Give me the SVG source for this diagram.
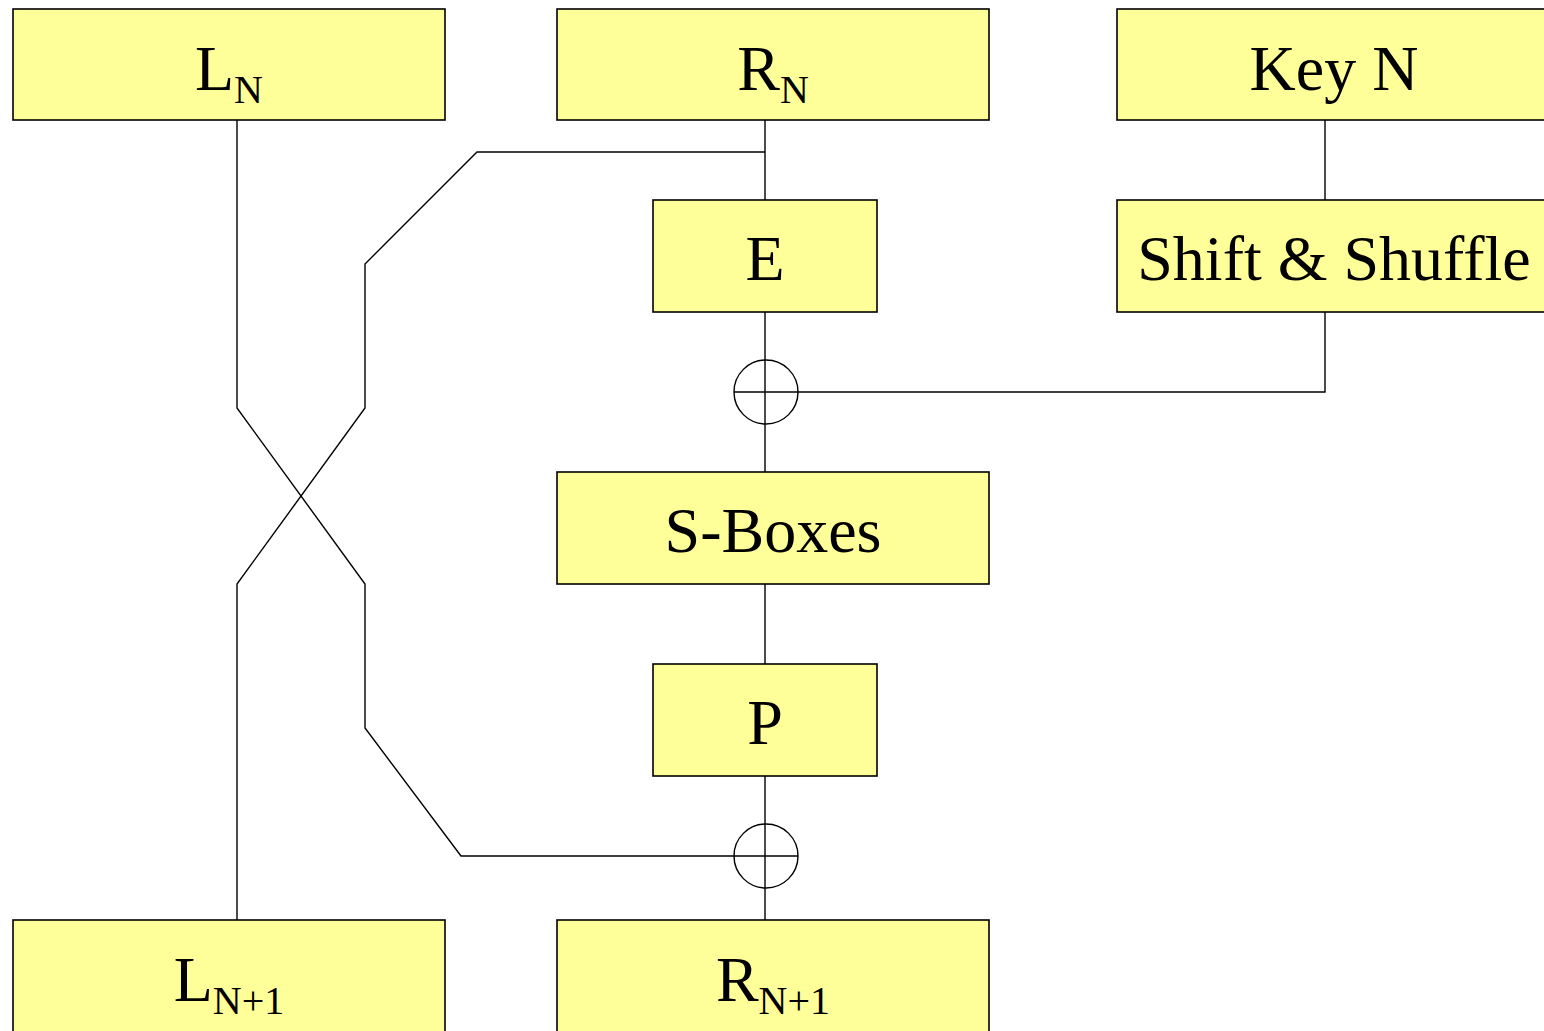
<svg xmlns="http://www.w3.org/2000/svg" width="1544" height="1031" viewBox="0 0 1544 1031">
<style>
.box{fill:#FFFF99;stroke:#000;stroke-width:1.6}
.t{font-family:"Liberation Serif","Times New Roman",serif;font-size:64px;fill:#000;text-anchor:middle}
.s{font-size:40px}
.ln{fill:none;stroke:#000;stroke-width:1.4}
</style>
<rect width="1544" height="1031" fill="#fff"/>
<g id="connectors">
<polyline class="ln" points="237,120 237,408 365,584 365,728 461,856 798,856"/>
<polyline class="ln" points="765,120 765,200"/>
<polyline class="ln" points="765,152 477,152 365,264 365,408 237,584 237,920"/>
<polyline class="ln" points="765,312 765,472"/>
<polyline class="ln" points="1325,120 1325,200"/>
<polyline class="ln" points="1325,312 1325,392 734,392"/>
<polyline class="ln" points="765,584 765,664"/>
<polyline class="ln" points="765,776 765,920"/>
</g>
<g id="xor1"><circle class="ln" cx="766" cy="392" r="32"/></g>
<g id="xor2"><circle class="ln" cx="766" cy="856" r="32"/></g>
<g id="LN"><rect class="box" x="13" y="9" width="432" height="111"/><text class="t" x="229" y="90">L<tspan class="s" dy="13">N</tspan></text></g>
<g id="RN"><rect class="box" x="557" y="9" width="432" height="111"/><text class="t" x="773" y="90">R<tspan class="s" dy="13">N</tspan></text></g>
<g id="KeyN"><rect class="box" x="1117" y="9" width="440" height="111"/><text class="t" x="1334" y="90">Key N</text></g>
<g id="E"><rect class="box" x="653" y="200" width="224" height="112"/><text class="t" x="765" y="280">E</text></g>
<g id="Shift"><rect class="box" x="1117" y="200" width="440" height="112"/><text class="t" x="1334" y="280">Shift &amp; Shuffle</text></g>
<g id="SBoxes"><rect class="box" x="557" y="472" width="432" height="112"/><text class="t" x="773" y="552">S-Boxes</text></g>
<g id="P"><rect class="box" x="653" y="664" width="224" height="112"/><text class="t" x="765" y="744">P</text></g>
<g id="LN1"><rect class="box" x="13" y="920" width="432" height="120"/><text class="t" x="229" y="1001">L<tspan class="s" dy="13">N+1</tspan></text></g>
<g id="RN1"><rect class="box" x="557" y="920" width="432" height="120"/><text class="t" x="773" y="1001">R<tspan class="s" dy="13">N+1</tspan></text></g>
</svg>
